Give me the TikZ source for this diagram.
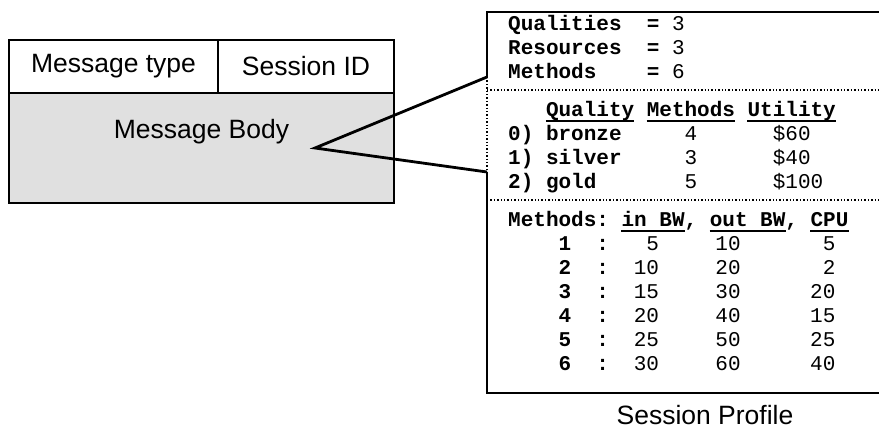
\documentclass[tikz,border=0pt]{standalone}
\usepackage{fontspec}
\setmainfont{Liberation Sans}
\newfontfamily\proffont{Liberation Mono}
\usetikzlibrary{positioning}
\tikzstyle{cell} = [rectangle, draw, line width=1.6pt, inner sep=0pt, outer sep=0pt, font=\fontsize{26.5}{30}\selectfont]
\tikzstyle{body} = [rectangle, draw, line width=1.8pt, outer sep=0pt, fill=black!12]
\tikzstyle{caption} = [font=\fontsize{26.5}{30}\selectfont]
\tikzstyle{frame} = [draw, line width=1.8pt]
\tikzstyle{divider} = [draw, line width=1.4pt, dotted]
\tikzstyle{callout} = [draw, line width=2.8pt]
\tikzstyle{prof} = [inner sep=0pt, anchor=base west, font=\proffont\bfseries\fontsize{21}{24}\selectfont]
\tikzstyle{num} = [inner sep=0pt, anchor=base, font=\proffont\fontsize{21}{24}\selectfont]
\tikzstyle{uline} = [draw, line width=1.8pt]

\begin{document}
\begin{tikzpicture}[x=1pt, y=-1pt]
\useasboundingbox (0,0) rectangle (879,437);

% message
\node [cell, minimum width=209pt, minimum height=53pt] at (113.5, 66.5) (mtype) {Message type};
\node [cell, minimum width=176pt, minimum height=53pt, right=0pt of mtype] (sid) {Session ID};
\node [body, anchor=north west, minimum width=385pt, minimum height=110pt] at (mtype.south west) (body) {};
\node [caption] at ([yshift=16pt]body.center) (bodytext) {Message Body};
\coordinate (apex) at ([xshift=113.5pt]body.center);

% session profile frame
\coordinate (ptop) at (487, 12);
\coordinate (pa) at (487, 77);
\coordinate (pb) at (487, 172);
\coordinate (pbot) at (487, 393);
\draw [frame] (879, 12) -- (ptop) -- (pa);
\draw [divider] (pa) -- (pb);
\draw [frame] (pb) -- (pbot) -- (879, 393);
\draw [divider] (487, 90) -- (879, 90);
\draw [divider] (487, 200) -- (879, 200);
\path [callout] (pa) -- (apex) -- (pb);
\node [caption] at (705, 415) (title) {Session Profile};

% counts
\foreach \name/\val [count=\i] in {Qualities/3, Resources/3, Methods/6} {
  \node [prof] at (508, 6+24*\i) (cnt\i) {\name};
  \node [prof] at (508+11*12.6, 6+24*\i) (eq\i) {=};
  \node [num, anchor=base west] at (508+13*12.6, 6+24*\i) (val\i) {\val};
}

% qualities
\node [prof] at (508+3*12.6, 116) (hq) {Quality};
\node [prof] at (508+11*12.6, 116) (hm) {Methods};
\node [prof] at (508+19*12.6, 116) (hu) {Utility};
\foreach \q/\m/\u [count=\i from 0] in {bronze/4/\$60, silver/3/\$40, gold/5/\$100} {
  \node [prof] at (508, 140+24*\i) (qual\i) {\i) \q};
  \node [num, anchor=base west] at (508+14*12.6, 140+24*\i) (qm\i) {\m};
  \node [num, anchor=base west] at (508+21*12.6, 140+24*\i) (qu\i) {\u};
}

% methods
\node [prof] at (508, 226) (hmeth) {Methods:};
\node [prof] at (508+9*12.6, 226) (hin) {in BW};
\node [prof] at (508+14*12.6, 226) (c1) {,};
\node [prof] at (508+16*12.6, 226) (hout) {out BW};
\node [prof] at (508+22*12.6, 226) (c2) {,};
\node [prof] at (508+24*12.6, 226) (hcpu) {CPU};
\foreach \n in {hq, hm, hu, hin, hout, hcpu}
  \draw [uline] ([yshift=-5pt]\n.base west) -- ([yshift=-5pt]\n.base east);

\foreach \a/\b/\c [count=\i] in {5/10/5, 10/20/2, 15/30/20, 20/40/15, 25/50/25, 30/60/40} {
  \node [prof] at (508+4*12.6, 226+24*\i) (m\i) {\i};
  \node [prof] at (508+7*12.6, 226+24*\i) (col\i) {:};
  \node [num, anchor=base east] at (508+12*12.6, 226+24*\i) (inbw\i) {\a};
  \node [num] at (728, 226+24*\i) (outbw\i) {\b};
  \node [num, anchor=base east] at (508+26*12.6, 226+24*\i) (cpu\i) {\c};
}

\end{tikzpicture}
\end{document}
